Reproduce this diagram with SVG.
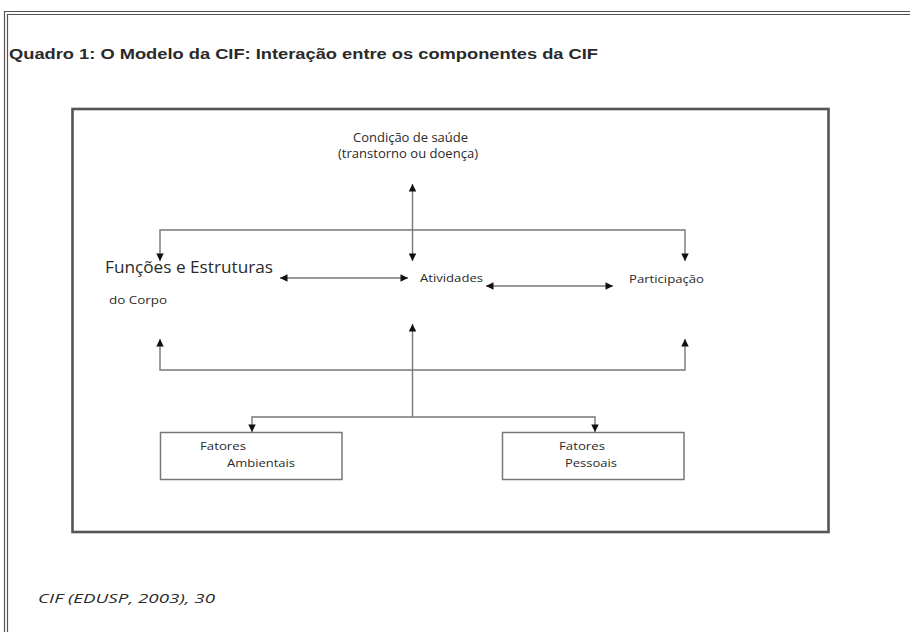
<svg xmlns="http://www.w3.org/2000/svg" width="910" height="632" viewBox="0 0 910 632">
  <style>
    .t { font-family: "Open Sans", "Liberation Sans", sans-serif; fill: #2a2a2a; }
    .frame { fill: none; stroke: #555; stroke-width: 1.2; }
    .box { fill: #fff; stroke: #777; stroke-width: 1.5; }
    .conn { fill: none; stroke: #777; stroke-width: 1.4; marker-start: url(#ah); marker-end: url(#ah); }
  </style>
  <defs>
    <marker id="ah" viewBox="0 0 10 10" refX="10" refY="5" markerUnits="userSpaceOnUse" markerWidth="10" markerHeight="7.5" orient="auto-start-reverse">
      <path d="M0,0 L10,5 L0,10 z" fill="#111"/>
    </marker>
  </defs>
  <rect width="910" height="632" fill="#fff"/>
  <!-- outer double frame -->
  <path class="frame" d="M4.5,632 V11.5 H910"/>
  <path class="frame" d="M7.5,632 V14.5 H910"/>
  <text class="t" x="9" y="59" font-size="14.5" font-weight="bold" textLength="589" lengthAdjust="spacingAndGlyphs" style="font-family:'Liberation Sans', sans-serif">Quadro 1: O Modelo da CIF: Interação entre os componentes da CIF</text>
  <!-- inner box -->
  <rect x="72.5" y="109" width="756" height="423" fill="none" stroke="#555" stroke-width="2.6"/>

  <g id="connectors">
    <path class="conn" d="M412.5,184 V261"/>
    <path class="conn" d="M160,261 V230 H685 V261"/>
    <path class="conn" d="M280,278 H408"/>
    <path class="conn" d="M486,286 H613"/>
    <path class="conn" d="M412.5,417 V324" style="marker-start:none"/>
    <path class="conn" d="M160,339 V370 H685 V339"/>
    <path class="conn" d="M252,432 V417 H595 V432"/>
  </g>

  <g id="condicao">
    <text class="t" x="353" y="142" font-size="12" textLength="115" lengthAdjust="spacingAndGlyphs">Condição de saúde</text>
    <text class="t" x="338" y="158" font-size="12" textLength="140" lengthAdjust="spacingAndGlyphs">(transtorno ou doença)</text>
  </g>
  <g id="funcoes">
    <text class="t" x="105" y="273" font-size="16" textLength="168" lengthAdjust="spacingAndGlyphs">Funções e Estruturas</text>
    <text class="t" x="109" y="304" font-size="11" textLength="58" lengthAdjust="spacingAndGlyphs">do Corpo</text>
  </g>
  <g id="atividades">
    <text class="t" x="420" y="282" font-size="11" textLength="63" lengthAdjust="spacingAndGlyphs">Atividades</text>
  </g>
  <g id="participacao">
    <text class="t" x="629" y="283" font-size="11" textLength="75" lengthAdjust="spacingAndGlyphs">Participação</text>
  </g>
  <g id="fatores-ambientais">
    <rect class="box" x="160.5" y="432.5" width="181.5" height="47"/>
    <text class="t" x="200" y="450" font-size="11" textLength="46" lengthAdjust="spacingAndGlyphs">Fatores</text>
    <text class="t" x="227" y="467" font-size="11" textLength="68" lengthAdjust="spacingAndGlyphs">Ambientais</text>
  </g>
  <g id="fatores-pessoais">
    <rect class="box" x="502.5" y="432.5" width="181.5" height="47"/>
    <text class="t" x="559" y="450" font-size="11" textLength="46" lengthAdjust="spacingAndGlyphs">Fatores</text>
    <text class="t" x="565" y="467" font-size="11" textLength="52" lengthAdjust="spacingAndGlyphs">Pessoais</text>
  </g>
  <text class="t" x="38" y="603" font-size="13.5" font-style="italic" textLength="177" lengthAdjust="spacingAndGlyphs">CIF (EDUSP, 2003), 30</text>
</svg>
